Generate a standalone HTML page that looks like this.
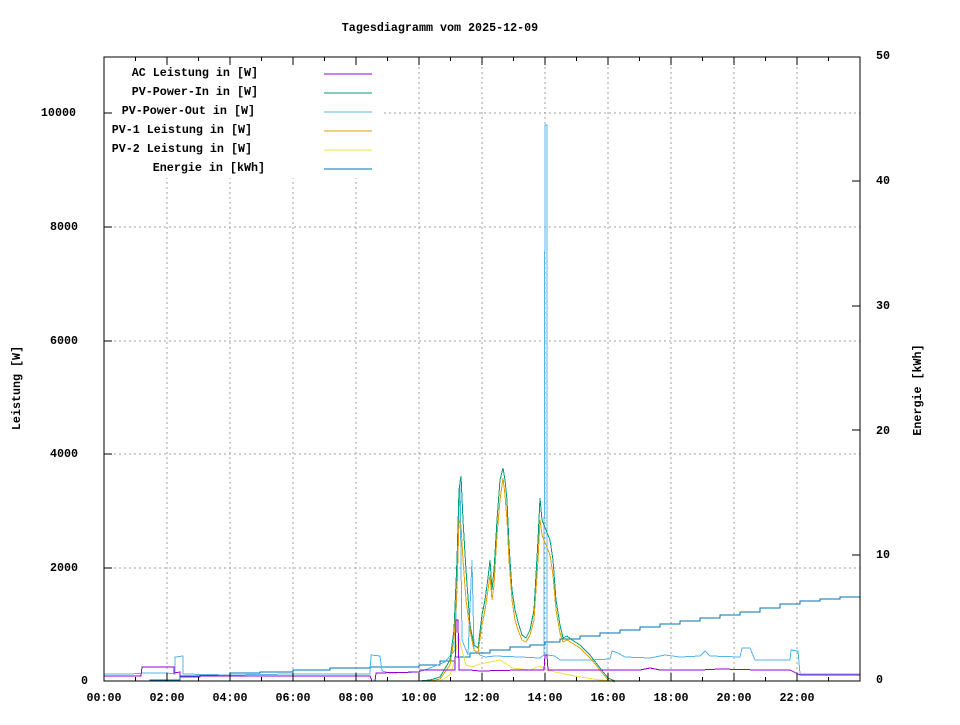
<!DOCTYPE html>
<html><head><style>
html,body{margin:0;padding:0;background:#fff;}
svg text{font-family:"Liberation Mono","DejaVu Sans Mono",monospace;font-size:11.7px;fill:#000;font-weight:bold;}
</style></head><body>
<svg width="960" height="720" xmlns="http://www.w3.org/2000/svg" shape-rendering="crispEdges">
<rect width="960" height="720" fill="#fff"/>
<text x="440" y="31" text-anchor="middle">Tagesdiagramm vom 2025-12-09</text>
<g stroke="#a0a0a0" stroke-dasharray="2,3" stroke-width="1">
<line x1="104" y1="568" x2="860" y2="568"/><line x1="104" y1="454" x2="860" y2="454"/>
<line x1="104" y1="341" x2="860" y2="341"/><line x1="104" y1="227" x2="860" y2="227"/>
<line x1="104" y1="113" x2="860" y2="113"/>
<line x1="167" y1="57" x2="167" y2="681"/><line x1="230" y1="57" x2="230" y2="681"/>
<line x1="293" y1="57" x2="293" y2="681"/><line x1="356" y1="57" x2="356" y2="681"/>
<line x1="419" y1="57" x2="419" y2="681"/><line x1="482" y1="57" x2="482" y2="681"/>
<line x1="545" y1="57" x2="545" y2="681"/><line x1="608" y1="57" x2="608" y2="681"/>
<line x1="671" y1="57" x2="671" y2="681"/><line x1="734" y1="57" x2="734" y2="681"/>
<line x1="797" y1="57" x2="797" y2="681"/>
</g>
<rect x="105" y="58" width="276" height="120" fill="#fff"/>
<g fill="none" stroke-width="1">
<polyline stroke="#0072b2" points="114,681 150,681 150,680 180,680 180,677 200,677 200,675 230,675 230,673 260,673 260,672 293,672 293,670 330,670 330,668 370,668 370,667 419,667 419,665 440,665 440,661 455,661 455,657 470,657 470,653 490,653 490,650 510,650 510,647 530,647 530,645 545,645 545,642 560,642 560,639 580,639 580,636 600,636 600,633 620,633 620,630 640,630 640,627 660,627 660,624 680,624 680,621 700,621 700,618 720,618 720,615 740,615 740,612 760,612 760,608 780,608 780,604 800,604 800,601 820,601 820,599 840,599 840,597 860,597"/>
<polyline stroke="#56b4e9" points="104,674 130,674 145,673 167,673 175,674 175,657 183,656 183,674 230,675 293,674 370,674 371,655 380,656 382,671 390,673 419,672 430,668 445,662 455,650 460,480 462,640 468,655 472,560 474,650 480,655 485,657 495,656 520,657 540,658 544,655 545,125 547,125 547,655 555,656 560,660 590,660 610,659 612,651 618,653 625,657 650,658 665,655 680,657 700,656 705,651 710,656 740,657 742,648 750,648 755,660 790,660 791,650 798,651 800,674 860,674"/>
<polyline stroke="#009e73" points="410,681 419,681 430,680 440,677 450,660 454,630 457,560 459,490 461,476 463,520 466,570 470,625 474,645 478,648 482,615 485,600 488,578 490,560 492,590 494,570 497,520 500,480 503,468 505,480 507,500 509,545 512,590 515,610 518,622 522,635 526,638 530,630 534,610 538,540 540,498 542,520 546,530 550,540 553,560 556,600 560,625 563,638 567,636 572,640 580,645 590,655 600,668 608,678 615,681"/>
<polyline stroke="#e69f00" points="410,681 419,681 430,681 440,679 450,665 454,640 457,590 459,520 461,525 463,560 466,600 470,630 474,650 478,653 482,625 485,610 488,590 490,575 492,600 494,585 497,535 500,500 503,478 505,495 507,520 509,560 512,600 515,620 518,630 522,640 526,642 530,635 534,620 538,560 540,520 542,535 546,545 550,555 553,575 556,610 560,633 563,642 567,640 572,643 580,648 590,658 600,670 608,680 615,682"/>
<polyline stroke="#f0e442" points="410,681 440,681 450,675 455,660 458,634 462,650 466,665 472,667 480,664 490,662 500,660 505,663 512,668 530,670 540,666 546,670 560,673 580,677 600,680 615,681"/>
<polyline stroke="#9400d3" points="104,676 141,676 142,667 174,667 174,673 180,672 180,676 260,676 330,676 370,676 372,681 375,681 376,673 419,672 420,670 440,670 455,670 456,620 458,620 459,670 470,670 480,671 520,670 544,670 545,655 547,655 548,670 600,670 640,670 650,668 660,670 700,670 720,669 760,670 790,670 800,675 860,675"/>
</g>
<g text-anchor="end">
<text x="258" y="76">AC Leistung in [W]</text>
<text x="258" y="95">PV-Power-In in [W]</text>
<text x="255" y="114">PV-Power-Out in [W]</text>
<text x="252" y="133">PV-1 Leistung in [W]</text>
<text x="252" y="152">PV-2 Leistung in [W]</text>
<text x="265" y="171">Energie in [kWh]</text>
</g>
<g stroke-width="1">
<line x1="324" y1="74" x2="372" y2="74" stroke="#9400d3"/>
<line x1="324" y1="93" x2="372" y2="93" stroke="#009e73"/>
<line x1="324" y1="112" x2="372" y2="112" stroke="#56b4e9"/>
<line x1="324" y1="131" x2="372" y2="131" stroke="#e69f00"/>
<line x1="324" y1="150" x2="372" y2="150" stroke="#f0e442"/>
<line x1="324" y1="169" x2="372" y2="169" stroke="#0072b2"/>
</g>
<rect x="104" y="57" width="756" height="624" fill="none" stroke="#000" stroke-width="1"/>
<g stroke="#000">
<line x1="104" y1="568" x2="112" y2="568"/><line x1="104" y1="454" x2="112" y2="454"/><line x1="104" y1="341" x2="112" y2="341"/><line x1="104" y1="227" x2="112" y2="227"/><line x1="104" y1="113" x2="112" y2="113"/>
<line x1="852" y1="555" x2="860" y2="555"/><line x1="852" y1="430" x2="860" y2="430"/><line x1="852" y1="306" x2="860" y2="306"/><line x1="852" y1="181" x2="860" y2="181"/>
</g>
<g stroke="#000">
<path d="M135.5 681v-4M167 681v-8M198.5 681v-4M230 681v-8M261.5 681v-4M293 681v-8M324.5 681v-4M356 681v-8M387.5 681v-4M419 681v-8M450.5 681v-4M482 681v-8M513.5 681v-4M545 681v-8M576.5 681v-4M608 681v-8M639.5 681v-4M671 681v-8M702.5 681v-4M734 681v-8M765.5 681v-4M797 681v-8M828.5 681v-4"/>
<path d="M135.5 57v4M167 57v8M198.5 57v4M230 57v8M261.5 57v4M293 57v8M324.5 57v4M356 57v8M387.5 57v4M419 57v8M450.5 57v4M482 57v8M513.5 57v4M545 57v8M576.5 57v4M608 57v8M639.5 57v4M671 57v8M702.5 57v4M734 57v8M765.5 57v4M797 57v8M828.5 57v4"/>
</g>
<g text-anchor="end">
<text x="88" y="684">0</text><text x="78" y="571">2000</text><text x="78" y="457">4000</text><text x="78" y="344">6000</text><text x="78" y="230">8000</text><text x="76" y="116">10000</text>
</g>
<g>
<text x="876" y="683">0</text><text x="876" y="558">10</text><text x="876" y="434">20</text><text x="876" y="309">30</text><text x="876" y="184">40</text><text x="876" y="59">50</text>
</g>
<g text-anchor="middle">
<text x="104" y="701">00:00</text><text x="167" y="701">02:00</text><text x="230" y="701">04:00</text><text x="293" y="701">06:00</text><text x="356" y="701">08:00</text><text x="419" y="701">10:00</text><text x="482" y="701">12:00</text><text x="545" y="701">14:00</text><text x="608" y="701">16:00</text><text x="671" y="701">18:00</text><text x="734" y="701">20:00</text><text x="797" y="701">22:00</text>
</g>
<text transform="translate(20,388) rotate(-90)" text-anchor="middle">Leistung [W]</text>
<text transform="translate(921,390) rotate(-90)" text-anchor="middle">Energie [kWh]</text>
</svg>
</body></html>
